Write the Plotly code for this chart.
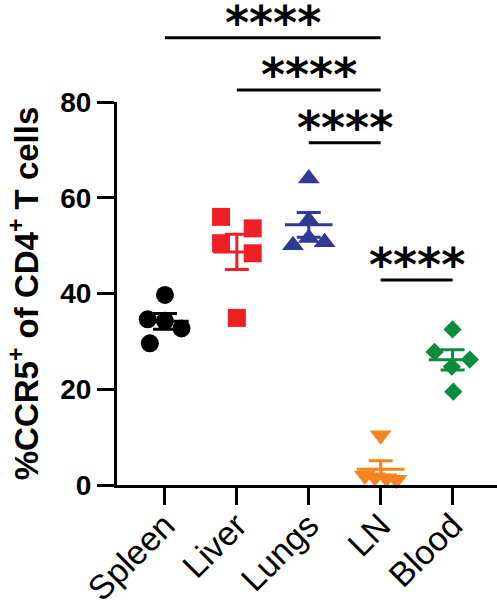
import numpy as np
import plotly.graph_objects as go

groups = ["Spleen", "Liver", "Lungs", "LN", "Blood"]
spleen = [39.7, 34.6, 34.3, 32.7, 29.6]
liver = [56.0, 53.6, 50.5, 48.4, 34.9]
lungs = [64.0, 55.3, 50.1, 51.6, 50.7]
ln = [10.4, 2.0, 1.6, 1.4, 1.1]
blood = [32.5, 27.8, 26.2, 24.7, 19.5]
values = [spleen, liver, lungs, ln, blood]

# horizontal scatter offsets of points within each group (category units)
jitter = [
    [0, -0.24, 0, 0.23, -0.21],
    [-0.22, 0.22, -0.22, 0.22, 0],
    [0, 0, -0.22, 0, 0.22],
    [0, -0.22, -0.08, 0.08, 0.22],
    [0, -0.25, 0.24, -0.01, 0.01],
]
colors = ["#000000", "#EE2026", "#2E3A94", "#F5831F", "#0E8A3F"]
symbols = ["circle", "square", "triangle-up", "triangle-down", "diamond"]
sizes = [18, 18, 19, 19, 14]

# significance comparisons: (group a, group b, bracket height in y units, label)
comparisons = [(0, 3, 93.4, "****"), (1, 3, 82.5, "****"), (2, 3, 71.5, "****"), (3, 4, 42.8, "****")]

YMAX = 80
fig = go.Figure()
for i, vals in enumerate(values):
    v = np.array(vals)
    m = v.mean()
    sem = v.std(ddof=1) / np.sqrt(len(v))
    fig.add_trace(go.Scatter(x=[i + j for j in jitter[i]], y=vals, mode="markers",
                             marker=dict(symbol=symbols[i], size=sizes[i], color=colors[i],
                                         line=dict(width=0)),
                             cliponaxis=False, showlegend=False))
    fig.add_trace(go.Scatter(x=[i - 0.33, i + 0.33], y=[m, m], mode="lines",
                             line=dict(color=colors[i], width=3), showlegend=False))
    fig.add_trace(go.Scatter(x=[i], y=[m], mode="markers", marker=dict(size=1, color=colors[i]),
                             error_y=dict(type="data", array=[sem], width=12, thickness=3,
                                          color=colors[i]),
                             showlegend=False))

for a, b, h, lab in comparisons:
    fig.add_shape(type="line", xref="x", yref="paper", x0=a, x1=b, y0=h / YMAX, y1=h / YMAX,
                  line=dict(color="black", width=3))
    fig.add_annotation(x=(a + b) / 2, y=h / YMAX, xref="x", yref="paper", text=lab,
                       showarrow=False, yanchor="bottom", yshift=-14,
                       font=dict(family="DejaVu Sans", size=46, color="black", weight="bold"))

fig.update_layout(
    width=497, height=611,
    margin=dict(l=117, r=0, t=102, b=126),
    paper_bgcolor="white", plot_bgcolor="white",
    font=dict(family="Arial, Liberation Sans", color="black"),
    xaxis=dict(range=[-0.667, 4.618], tickvals=list(range(len(groups))), ticktext=groups,
               tickangle=-45, showline=True, linewidth=3, linecolor="black",
               ticks="outside", ticklen=17, tickwidth=3, tickcolor="black",
               showgrid=False, zeroline=False, ticklabelstandoff=-13, automargin=False,
               tickfont=dict(size=34, family="Arial, Liberation Sans", color="black")),
    yaxis=dict(range=[0, YMAX], tickvals=[0, 20, 40, 60, 80], showline=True, linewidth=3,
               linecolor="black", ticks="outside", ticklen=17, tickwidth=3, tickcolor="black",
               showgrid=False, zeroline=False, automargin=False,
               tickfont=dict(size=28, family="Arial, Liberation Sans", color="black", weight="bold"),
               title=dict(text="%CCR5<sup>+</sup> of CD4<sup>+</sup> T cells", standoff=12,
                          font=dict(size=33, family="Arial, Liberation Sans", color="black",
                                    weight="bold"))),
)
fig.write_html("out.html")
